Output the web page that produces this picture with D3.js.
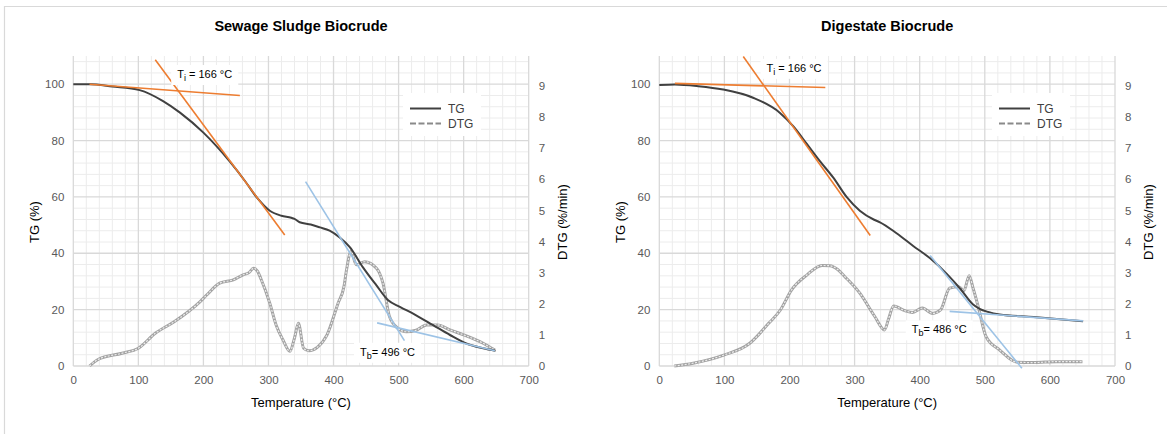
<!DOCTYPE html>
<html><head><meta charset="utf-8">
<script src="https://cdn.jsdelivr.net/npm/d3@7"></script>
<style>body{margin:0;background:#fff;} svg{display:block;font-family:"Liberation Sans",Arial,sans-serif;}</style>
</head><body>
<svg id="c" width="1167" height="434"></svg>
<script>
// ---------- data ----------
const xTicks = [0,100,200,300,400,500,600,700];
const tgTicks = [0,20,40,60,80,100];
const dtgTicks = [0,1,2,3,4,5,6,7,8,9];

// Sewage sludge biocrude
const ssTemp = [0,25,60,102,138,164,200,241,265,282,302,320,335,340,348,365,379,394,410,425,445,466,484,502,527,553,579,604,630,649];
const ssTG   = [100,100,99.2,97.9,94,89.9,82.8,72.4,65.3,59.8,55.1,53.3,52.6,52.2,51,50.2,49.2,48,45.5,42.2,35.1,28.6,23.3,21,18,14.5,11,8,6.3,5.4];
const ssDtgTemp = [25,38,75,100,126,155,195,205,225,246,261,270,277,283,289,302,312,322,333,340,346,354,362,375,390,407,416,420,427,435,448,466,476,486,499,512,527,543,560,579,600,630,648];
const ssDTG     = [0,0.21,0.41,0.57,1.05,1.42,2.07,2.28,2.66,2.77,2.93,3.0,3.14,3.05,2.77,2.02,1.3,0.85,0.47,0.9,1.37,0.57,0.49,0.6,1.0,2.02,2.55,3.09,3.68,3.25,3.35,3.14,2.66,1.59,1.21,1.1,1.15,1.32,1.32,1.16,1.0,0.73,0.51];
const ssTangentsTemp = [[25,256],[126,325],[357,509],[467,648]];
const ssTangentsTG   = [[100,96.0],[108.7,46.5],[65.4,9.0],[15.3,5.4]];

// Digestate biocrude
const dgTemp = [0,24,60,98,144,185,206,226,247,267,288,308,330,339,365,390,416,442,462,482,492,505,523,575,651];
const dgTG   = [99.7,99.9,99.3,98.1,95.2,89.9,85.0,79.0,72.6,66.9,59.9,55.1,51.9,51.0,47.0,42.6,38.2,32.6,27.5,21.8,20.3,19.2,18.3,17.4,15.9];
const dgDtgTemp = [23,52,99,139,168,186,203,227,250,262,274,285,308,331,346,352,360,377,389,404,420,432,446,460,468,476,482,490,502,523,550,575,610,650];
const dgDTG     = [0,0.09,0.35,0.73,1.37,1.8,2.44,2.93,3.23,3.22,3.1,2.87,2.34,1.59,1.16,1.5,1.93,1.78,1.72,1.86,1.69,1.8,2.5,2.55,2.42,2.9,2.5,1.9,0.94,0.51,0.12,0.11,0.14,0.14];
const dgTangentsTemp = [[24,255],[129,324],[416,557],[446,651]];
const dgTangentsTG   = [[100.3,98.8],[109.8,46.3],[39.2,-0.8],[19.4,16.0]];

const tangentColors = ["#ED7D31","#ED7D31","#9DC3E6","#9DC3E6"];

// ---------- drawing ----------
const svg = d3.select("#c");
svg.append("line").attr("x1",4).attr("x2",1167).attr("y1",6.5).attr("y2",6.5).attr("stroke","#d9d9d9").attr("stroke-width",1.2);
svg.append("line").attr("x1",4.5).attr("x2",4.5).attr("y1",6).attr("y2",434).attr("stroke","#d9d9d9").attr("stroke-width",1.2);

const panels = [
  {title:"Sewage Sludge Biocrude", x0:73.3, x1:528.7, temp:ssTemp, tg:ssTG, dtgT:ssDtgTemp, dtg:ssDTG,
   tanT:ssTangentsTemp, tanY:ssTangentsTG, ti:[202,103.6], tb:[483,5.05], tbText:"= 496 °C", legendX:403},
  {title:"Digestate Biocrude", x0:659.3, x1:1115, temp:dgTemp, tg:dgTG, dtgT:dgDtgTemp, dtg:dgDTG,
   tanT:dgTangentsTemp, tanY:dgTangentsTG, ti:[207,105.8], tb:[430,13.0], tbText:"= 486 °C", legendX:992}
];

const plotTop = 56, plotBottom = 366;

panels.forEach(p => {
  const g = svg.append("g");
  const x = d3.scaleLinear().domain([0,700]).range([p.x0,p.x1]);
  const y = d3.scaleLinear().domain([0,110]).range([plotBottom,plotTop]);
  const y2 = d3.scaleLinear().domain([0,9.96]).range([plotBottom,plotTop]);

  // minor grid
  const minorX = d3.range(0,701,20).filter(v=>v%100!==0);
  const minorY = d3.range(0,111,4).filter(v=>v%20!==0);
  g.selectAll(".mx").data(minorX).join("line").attr("x1",d=>x(d)).attr("x2",d=>x(d)).attr("y1",plotTop).attr("y2",plotBottom).attr("stroke","#ececec").attr("stroke-width",1);
  g.selectAll(".my").data(minorY).join("line").attr("x1",p.x0).attr("x2",p.x1).attr("y1",d=>y(d)).attr("y2",d=>y(d)).attr("stroke","#ececec").attr("stroke-width",1);
  // major grid
  g.selectAll(".Mx").data(xTicks).join("line").attr("x1",d=>x(d)).attr("x2",d=>x(d)).attr("y1",plotTop).attr("y2",plotBottom).attr("stroke","#d9d9d9").attr("stroke-width",1.3);
  g.selectAll(".My").data(tgTicks).join("line").attr("x1",p.x0).attr("x2",p.x1).attr("y1",d=>y(d)).attr("y2",d=>y(d)).attr("stroke","#d9d9d9").attr("stroke-width",1.3);

  // axes (labels only)
  const axB = g.append("g").attr("transform",`translate(0,${plotBottom})`).call(d3.axisBottom(x).tickValues(xTicks).tickSize(0).tickPadding(10));
  const axL = g.append("g").attr("transform",`translate(${p.x0},0)`).call(d3.axisLeft(y).tickValues(tgTicks).tickSize(0).tickPadding(9));
  const axR = g.append("g").attr("transform",`translate(${p.x1},0)`).call(d3.axisRight(y2).tickValues(dtgTicks).tickSize(0).tickPadding(10));
  [axB,axL,axR].forEach(a=>{a.select(".domain").remove(); a.selectAll("text").attr("fill","#595959").style("font-size","11.5px").style("font-family","'Liberation Sans',Arial,sans-serif");});

  // title & axis titles
  const cx = (p.x0+p.x1)/2;
  g.append("text").attr("x",cx).attr("y",31).attr("text-anchor","middle").style("font-weight","bold").style("font-size","14.5px").attr("fill","#000").text(p.title);
  g.append("text").attr("x",cx).attr("y",407).attr("text-anchor","middle").style("font-size","13px").attr("fill","#000").text("Temperature (°C)");
  g.append("text").attr("transform",`translate(${p.x0-34},222) rotate(-90)`).attr("text-anchor","middle").style("font-size","13px").attr("fill","#000").text("TG (%)");
  g.append("text").attr("transform",`translate(${p.x1+38},222) rotate(-90)`).attr("text-anchor","middle").style("font-size","13px").attr("fill","#000").text("DTG (%/min)");

  // DTG curve (textured grey)
  const dtgLine = d3.line().x((d,i)=>x(p.dtgT[i])).y(d=>y2(d)).curve(d3.curveMonotoneX);
  g.append("path").attr("d",dtgLine(p.dtg)).attr("fill","none").attr("stroke","#a3a3a3").attr("stroke-width",3);
  g.append("path").attr("d",dtgLine(p.dtg)).attr("fill","none").attr("stroke","#ededed").attr("stroke-width",1.2).attr("stroke-dasharray","2,1.5");

  // TG curve
  const tgLine = d3.line().x((d,i)=>x(p.temp[i])).y(d=>y(d)).curve(d3.curveMonotoneX);
  g.append("path").attr("d",tgLine(p.tg)).attr("fill","none").attr("stroke","#404040").attr("stroke-width",2);

  // tangent lines
  p.tanT.forEach((tt,i)=>{
    g.append("line").attr("x1",x(tt[0])).attr("x2",x(tt[1])).attr("y1",y(p.tanY[i][0])).attr("y2",y(p.tanY[i][1]))
     .attr("stroke",tangentColors[i]).attr("stroke-width",1.6);
  });

  // annotations
  function label(pos, sub, rest){
    const t = g.append("text").attr("x",x(pos[0])).attr("y",y(pos[1])+4).attr("text-anchor","middle").style("font-size","11px").attr("fill","#000");
    t.append("tspan").text("T");
    t.append("tspan").attr("dy",3).style("font-size","9px").text(sub);
    t.append("tspan").attr("dy",-3).text(rest);
    const bb = t.node().getBBox();
    g.insert("rect", function(){return t.node();}).attr("x",bb.x-6).attr("y",bb.y-3).attr("width",bb.width+12).attr("height",bb.height+5).attr("fill","#fff");
  }
  label(p.ti, "i", " = 166 °C");
  label(p.tb, "b", p.tbText);

  // legend
  const lx = p.legendX;
  g.append("rect").attr("x",lx).attr("y",93).attr("width",78).attr("height",43).attr("fill","#fff");
  g.append("line").attr("x1",lx+7).attr("x2",lx+38).attr("y1",108.5).attr("y2",108.5).attr("stroke","#404040").attr("stroke-width",2);
  g.append("line").attr("x1",lx+7).attr("x2",lx+38).attr("y1",123.5).attr("y2",123.5).attr("stroke","#8a8a8a").attr("stroke-width",2.2).attr("stroke-dasharray","6,2.5");
  g.append("text").attr("x",lx+45).attr("y",112.5).style("font-size","12px").attr("fill","#404040").text("TG");
  g.append("text").attr("x",lx+45).attr("y",127.5).style("font-size","12px").attr("fill","#404040").text("DTG");
});
</script>
</body></html>
